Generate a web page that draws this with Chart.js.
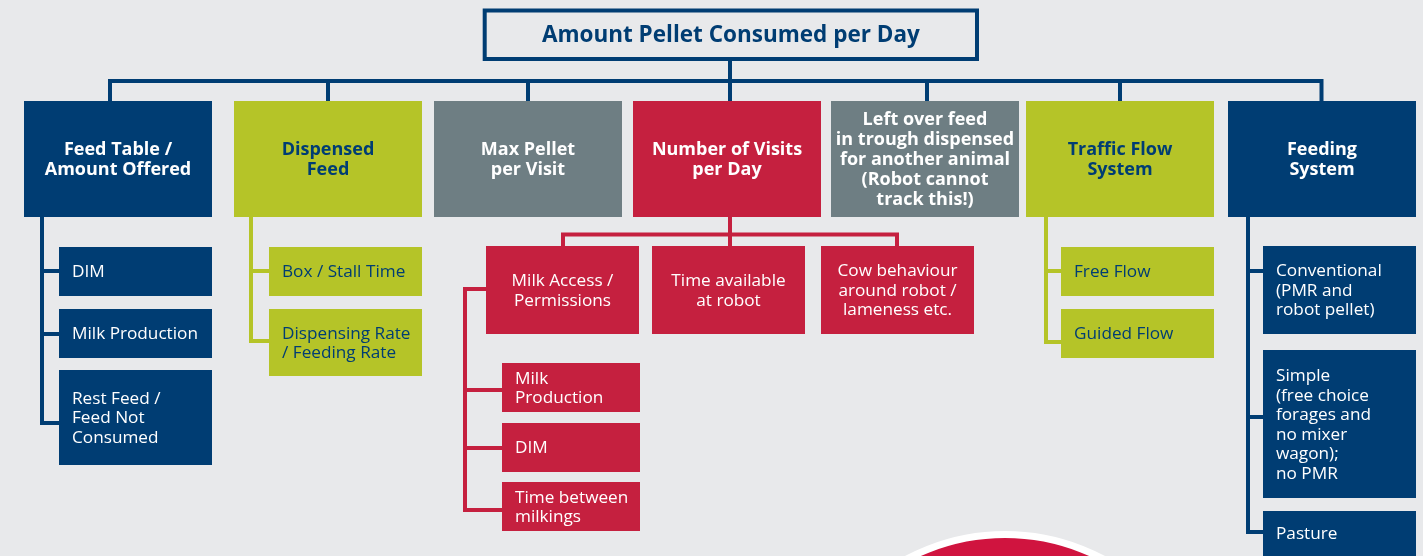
<!DOCTYPE html>
<html>
<head>
<meta charset="utf-8">
<script src="https://cdn.jsdelivr.net/npm/chart.js@4/dist/chart.umd.min.js"></script>
<style>
  html, body { margin: 0; padding: 0; background: #e8e9eb; }
  #wrap { width: 1423px; height: 556px; position: relative; }
</style>
</head>
<body>
<div id="wrap"><canvas id="c"></canvas></div>
<script>
// ---------------- DATA ----------------
const nodeLabels = [
  "Amount Pellet Consumed per Day",
  "Feed Table /\nAmount Offered",
  "Dispensed\nFeed",
  "Max Pellet\nper Visit",
  "Number of Visits\nper Day",
  "Left over feed\nin trough dispensed\nfor another animal\n(Robot cannot\ntrack this!)",
  "Traffic Flow\nSystem",
  "Feeding\nSystem",
  "DIM",
  "Milk Production",
  "Rest Feed /\nFeed Not\nConsumed",
  "Box / Stall Time",
  "Dispensing Rate\n/ Feeding Rate",
  "Milk Access /\nPermissions",
  "Time available\nat robot",
  "Cow behaviour\naround robot /\nlameness etc.",
  "Milk\nProduction",
  "DIM",
  "Time between\nmilkings",
  "Free Flow",
  "Guided Flow",
  "Conventional\n(PMR and\nrobot pellet)",
  "Simple\n(free choice\nforages and\nno mixer\nwagon);\nno PMR",
  "Pasture"
];
const nodeParents = [-1, 0, 0, 0, 0, 0, 0, 0, 1, 1, 1, 2, 2, 4, 4, 4, 13, 13, 13, 6, 6, 7, 7, 7];
const nodeGroups = ["root", "blue", "lime", "grey", "red", "grey", "lime", "blue",
  "blue", "blue", "blue", "lime", "lime", "red", "red", "red", "red", "red", "red",
  "lime", "lime", "blue", "blue", "blue"];

// ---------------- LAYOUT (diagram units) ----------------
const boxLeft   = [484.7, 24, 234, 434, 633, 831, 1026, 1228, 59, 59, 59, 269, 269, 486, 652, 821, 502, 502, 502, 1061, 1061, 1263, 1263, 1263];
const boxTop    = [10.5, 101, 101, 101, 101, 101, 101, 101, 247, 309, 370, 247, 309, 246, 246, 246, 363, 423, 482, 247, 309, 246, 350, 511];
const boxRight  = [977, 212, 422, 622, 821, 1019, 1214, 1416, 212, 212, 212, 422, 422, 639, 805, 974, 640, 640, 640, 1214, 1214, 1416, 1416, 1416];
const boxBottom = [59, 217, 217, 217, 217, 217, 217, 217, 296, 358, 465, 296, 376, 334, 334, 334, 412, 472, 531, 296, 358, 334, 498, 556];

// connector polylines (x,y pairs)
const connectorGroups = ["blue","blue","blue","blue","blue","blue","blue",
  "blue","blue","blue",
  "lime","lime",
  "red","red",
  "red","red","red",
  "lime","lime",
  "blue","blue","blue"];
const connectorPaths = [
  [730, 59, 730, 81],
  [110, 101, 110, 81, 1321.5, 81, 1321.5, 101],
  [328, 81, 328, 101],
  [528, 81, 528, 101],
  [730, 81, 730, 101],
  [927, 81, 927, 101],
  [1120, 81, 1120, 101],
  [42, 217, 42, 423, 59, 423],
  [42, 271, 59, 271],
  [42, 334, 59, 334],
  [251, 217, 251, 341, 269, 341],
  [251, 271, 269, 271],
  [730, 217, 730, 246],
  [563, 246, 563, 234.5, 897, 234.5, 897, 246],
  [486, 289, 465, 289, 465, 510, 502, 510],
  [465, 390, 502, 390],
  [465, 448, 502, 448],
  [1046, 217, 1046, 342, 1061, 342],
  [1046, 271, 1061, 271],
  [1248, 217, 1248, 532, 1263, 532],
  [1248, 271, 1263, 271],
  [1248, 417, 1263, 417]
];
// decorative emblem at bottom
const emblemCenter = [1005, 743.5];
const emblemRadius = 209;

// ---------------- STYLES ----------------
const fillColors = { blue: "#003d73", lime: "#b5c428", grey: "#6e7e83", red: "#c5203f", root: "#e8e9eb" };
const textColors = { blue: "#ffffff", lime: "#003d73", grey: "#ffffff", red: "#ffffff", root: "#003d73" };
const FONT = "'Open Sans', 'Noto Sans', sans-serif";

const datasets = connectorPaths.map((p, i) => {
  const pts = [];
  for (let k = 0; k < p.length; k += 2) pts.push({ x: p[k], y: p[k + 1] });
  return {
    type: "scatter", data: pts, showLine: true, pointRadius: 0, pointHoverRadius: 0,
    borderColor: fillColors[connectorGroups[i]], borderWidth: 4,
    borderJoinStyle: "miter", borderCapStyle: "butt", fill: false, tension: 0
  };
});
datasets.push({
  type: "bubble",
  data: [{ x: emblemCenter[0], y: emblemCenter[1], r: emblemRadius }],
  backgroundColor: "#d0143f", borderColor: "#ffffff", borderWidth: 7, hoverRadius: 0
});

const boxPlugin = {
  id: "boxes",
  afterDatasetsDraw(chart) {
    const ctx = chart.ctx, xs = chart.scales.x, ys = chart.scales.y;
    ctx.save();
    nodeLabels.forEach((label, i) => {
      const x0 = xs.getPixelForValue(boxLeft[i]), x1 = xs.getPixelForValue(boxRight[i]);
      const y0 = ys.getPixelForValue(boxTop[i]), y1 = ys.getPixelForValue(boxBottom[i]);
      const g = nodeGroups[i];
      const isRoot = g === "root";
      const isTop = nodeParents[i] === 0;
      if (isRoot) {
        ctx.fillStyle = fillColors.root;
        ctx.fillRect(x0, y0, x1 - x0, y1 - y0);
        ctx.strokeStyle = fillColors.blue; ctx.lineWidth = 4;
        ctx.strokeRect(x0, y0, x1 - x0, y1 - y0);
      } else {
        ctx.fillStyle = fillColors[g];
        ctx.fillRect(x0, y0, x1 - x0, y1 - y0);
      }
      const lines = label.split("\n");
      let size, weight, lh;
      if (isRoot) { size = 22.5; weight = "bold"; lh = 22; }
      else if (isTop) { size = 18; weight = "bold"; lh = 20; }
      else { size = 17.2; weight = "normal"; lh = 19.5; }
      ctx.font = weight + " " + size + "px " + FONT;
      ctx.fillStyle = textColors[g];
      ctx.textBaseline = "middle";
      const align = (isRoot || isTop || nodeParents[i] === 4) ? "center" : "left";
      ctx.textAlign = align;
      const tx = align === "center" ? (x0 + x1) / 2 : x0 + 13;
      const cy = (y0 + y1) / 2;
      const start = cy - (lines.length - 1) * lh / 2;
      lines.forEach((ln, k) => ctx.fillText(ln, tx, start + k * lh + 1));
    });
    ctx.restore();
  }
};

new Chart(document.getElementById("c"), {
  type: "scatter",
  data: { datasets },
  options: {
    responsive: true, maintainAspectRatio: false, animation: false,
    layout: { padding: 0, autoPadding: false },
    plugins: { legend: { display: false }, tooltip: { enabled: false } },
    events: [],
    scales: {
      x: { type: "linear", min: 0, max: 1423, display: false },
      y: { type: "linear", min: 0, max: 556, reverse: true, display: false }
    }
  },
  plugins: [boxPlugin]
});
</script>
</body>
</html>
